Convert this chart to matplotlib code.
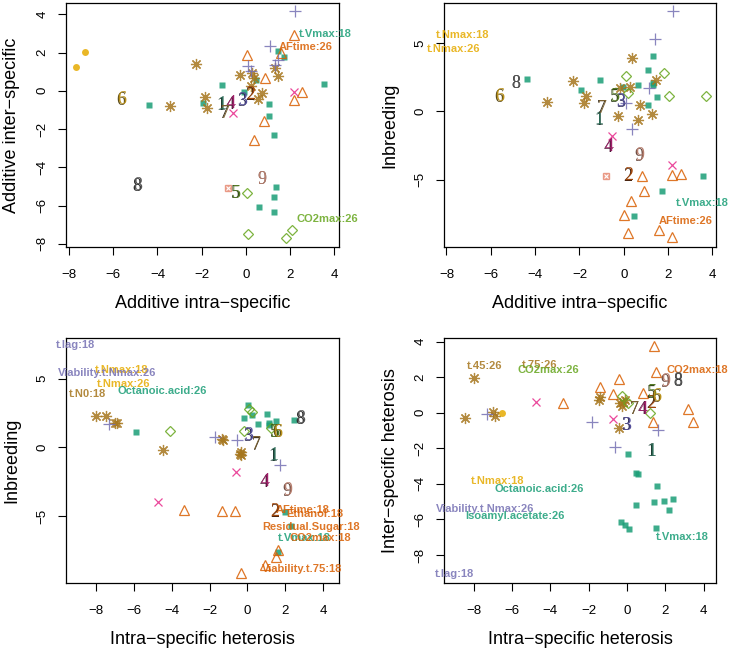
# Four-panel scatter of trait effects (base-R look), rebuilt in matplotlib
import matplotlib
matplotlib.use("Agg")
import matplotlib.pyplot as plt
import matplotlib.transforms as mtrans

plt.rcParams['font.family'] = ['Liberation Sans', 'DejaVu Sans']

# colours (Dark2 style)
GREEN = '#1B9E77'
ORANGE = '#D95F02'
PURPLE = '#7570B3'
MAGENTA = '#E7298A'
LIME = '#66A61E'
GOLD = '#E6AB02'
BROWN = '#A6761D'
SALMON = '#E8907A'

# numbers 1..9 : main colour, shadow colour
num_col = ['#2E6B57', '#A2470A', '#55509A', '#A0206A', '#557A25',
           '#B8901A', '#7A6030', '#555555', '#B88070']
num_shadow = ['#1E3D33', '#4A2510', '#2E2B55', '#4E1838', '#2E3F18',
              '#5A4A18', '#3A3020', '#2A2A2A', '#6A4A40']

# ---------------- panel 1 : additive intra vs additive inter ----------------
p1_sq = [[-4.36, -0.77], [-1.09, 0.31], [-1.93, -0.63], [-0.08, -0.09], [0.45, 0.58],
         [1.06, -0.68], [1.06, -1.31], [1.28, -2.29], [1.45, 2.06], [1.75, 1.76],
         [3.54, 0.35], [1.36, -5.03], [1.28, -5.57], [0.62, -6.06], [1.28, -6.34]]
p1_tri = [[0.05, 1.88], [1.6, 1.97], [2.16, 2.9], [0.87, 0.66], [0.84, -1.57],
          [0.35, -2.58], [2.56, -0.05], [2.16, -0.49]]
p1_ast = [[-3.45, -0.82], [-2.26, 1.40], [-1.84, -0.30], [-1.74, -0.91], [-0.26, 0.84],
          [0.27, 0.93], [0.35, 0.66], [1.30, 1.19], [1.45, 0.75], [0.24, 0.23],
          [0.72, -0.12], [0.56, -0.42]]
p1_plus = [[2.23, 4.15], [1.10, 2.32], [1.33, 1.36], [1.48, 1.62], [0.09, 1.31], [0.24, 1.01]]
p1_x = [[-0.57, -1.14], [2.16, -0.04]]
p1_dia = [[0.06, -5.36], [0.08, -7.49], [1.81, -7.71], [2.11, -7.28]]
p1_circ = [[-7.68, 1.26], [-7.28, 2.02]]
p1_box = [[-0.81, -5.08]]
p1_num = [[-1.09, -0.73], [0.23, -0.21], [-0.13, -0.51], [-0.68, -0.68], [-0.41, -5.36],
          [-5.61, -0.47], [-0.94, -1.17], [-4.9, -4.97], [0.75, -4.62]]
p1_lab = ['t.Vmax:18', 'AFtime:26', 'CO2max:26']
p1_lab_xy = [[3.59, 2.97], [2.73, 2.30], [3.71, -6.70]]
p1_lab_col = [GREEN, ORANGE, LIME]

# ---------------- panel 2 : additive intra vs inbreeding ----------------
p2_sq = [[-4.35, 2.37], [-1.94, 1.54], [-1.08, 2.27], [-0.05, 1.76], [0.63, 1.95],
         [1.08, 0.49], [1.08, 3.05], [1.3, 1.9], [1.3, 2.1], [1.49, 1.02], [1.34, 4.02],
         [3.56, -4.71], [1.71, -5.83], [0.48, -7.68]]
p2_tri = [[0.83, -4.71], [2.16, -4.68], [2.58, -4.59], [0.90, -5.83], [0.33, -6.54],
          [0.03, -7.61], [0.20, -8.9], [1.61, -8.66], [2.18, -9.22]]
p2_ast = [[-3.48, 0.71], [-2.27, 2.24], [-1.71, 1.10], [-1.80, 0.61], [-0.26, -0.37],
          [-0.17, 1.71], [0.30, 1.78], [0.36, 3.90], [0.75, 0.49], [0.63, -0.66],
          [1.46, 2.27], [1.28, -0.20]]
p2_plus = [[0.11, 0.61], [0.36, -1.29], [1.16, 1.71], [1.43, 5.29], [2.24, 7.32]]
p2_x = [[-0.54, -1.83], [2.16, -3.95]]
p2_dia = [[0.11, 2.56], [0.18, 1.34], [1.80, 2.80], [2.06, 1.10], [3.71, 1.10]]
p2_circ = []
p2_box = [[-0.80, -4.76]]
p2_num = [[-1.1, -0.61], [0.23, -4.71], [-0.12, 0.73], [-0.68, -2.56], [-0.38, 1.05],
          [-5.6, 1.10], [-0.98, 0.24], [-4.85, 2.07], [0.74, -3.24]]
p2_lab = ['t.Nmax:18', 't.Nmax:26', 't.Vmax:18', 'AFtime:26']
p2_lab_xy = [[-7.25, 5.56], [-7.67, 4.56], [3.53, -6.71], [2.78, -8.05]]
p2_lab_col = [GOLD, GOLD, GREEN, ORANGE]

# ---------------- panel 3 : intra heterosis vs inbreeding ----------------
p3_sq = [[-5.87, 1.10], [0.02, 3.05], [-0.21, 2.12], [0.23, 2.32], [0.58, 1.66],
         [1.02, 2.39], [1.11, 1.8], [1.11, 1.6], [1.51, 1.90], [2.46, 1.95],
         [1.99, -4.68], [2.3, -5.73], [1.63, -7.6]]
p3_tri = [[-3.37, -4.56], [-1.32, -4.63], [-0.65, -4.63], [1.6, -7.49], [1.49, -7.98],
          [0.9, -8.6], [-0.33, -9.15]]
p3_ast = [[-8.0, 2.27], [-7.45, 2.27], [-7.0, 1.8], [-6.9, 1.75], [-4.48, -0.17],
          [-1.35, 0.61], [-1.3, 0.55], [-0.33, -0.37], [-0.33, -0.6], [-0.4, -0.5]]
p3_plus = [[-7.33, 1.66], [-1.74, 0.73], [-0.53, 0.54], [1.72, -1.29]]
p3_x = [[-0.62, -1.78], [-4.75, -3.95]]
p3_dia = [[-4.11, 1.15], [-0.21, 1.15], [0.1, 2.8], [0.25, 2.6], [1.23, 1.39]]
p3_circ = []
p3_box = []
p3_num = [[1.41, -0.61], [1.46, -4.68], [0.05, 0.85], [0.93, -2.51], [1.46, 1.1],
          [1.6, 1.1], [0.49, 0.2], [2.83, 2.07], [2.11, -3.17]]
p3_lab = ['t.lag:18', 't.Nmax:18', 'Viability.t.Nmax:26', 't.Nmax:26', 't.N0:18',
          'Octanoic.acid:26', 'AFtime:18', 'Ethanol:18', 'Residual.Sugar:18',
          't.Vmax:18', 'CO2max:18', 'Viability.t.75:18']
p3_lab_xy = [[-9.09, 7.44], [-6.63, 5.61], [-7.42, 5.41], [-6.54, 4.59], [-8.44, 3.90],
             [-4.52, 4.07], [2.9, -4.55], [3.57, -4.88], [3.34, -5.80],
             [2.99, -6.63], [3.83, -6.59], [2.86, -8.85]]
p3_lab_col = [PURPLE, GOLD, PURPLE, GOLD, BROWN, GREEN, ORANGE, ORANGE, ORANGE,
              GREEN, ORANGE, ORANGE]

# ---------------- panel 4 : intra heterosis vs inter heterosis ----------------
p4_sq = [[0.03, -2.31], [0.45, -3.4], [0.55, -3.42], [1.55, -4.13], [0.47, -5.2],
         [1.42, -5.0], [1.91, -4.97], [2.38, -4.84], [2.2, -5.44], [-0.31, -6.13],
         [-0.09, -6.32], [0.12, -6.51], [1.51, -6.47]]
p4_tri = [[-3.32, 0.53], [-1.41, 1.46], [-0.75, 1.05], [-0.40, 1.88], [0.82, 1.09],
          [1.37, -0.51], [1.42, 3.75], [1.51, 2.31], [3.19, 0.19], [3.45, -0.51]]
p4_ast = [[-8.0, 1.97], [-8.44, -0.28], [-7.0, 0.04], [-6.91, -0.19], [-1.41, 0.9],
          [-1.44, 0.71], [-0.36, 0.53], [-0.19, 0.61], [-0.25, 0.4], [-0.09, 0.71],
          [-0.40, -0.88]]
p4_plus = [[-7.31, -0.09], [-1.84, -0.51], [-0.61, -1.91], [1.63, -0.98]]
p4_x = [[-4.74, 0.60], [-0.71, -0.38]]
p4_dia = [[-0.28, 0.94], [0.07, 0.53], [1.2, 0.0]]
p4_circ = [[-6.51, 0.0]]
p4_box = []
p4_num = [[1.28, -2.16], [1.28, 0.53], [-0.02, -0.69], [0.85, 0.2], [1.34, 1.13],
          [1.55, 0.9], [0.4, 0.2], [2.67, 1.8], [2.03, 1.74]]
p4_lab = ['t.45:26', 't.75:26', 'CO2max:26', 'CO2max:18', 't.Nmax:18',
          'Octanoic.acid:26', 'Viability.t.Nmax:26', 'Isoamyl.acetate:26',
          't.Vmax:18', 't.lag:18']
p4_lab_xy = [[-7.43, 2.63], [-4.57, 2.66], [-4.13, 2.40], [3.68, 2.40], [-6.74, -3.85],
             [-4.57, -4.26], [-7.38, -5.40], [-5.87, -5.82], [2.86, -6.98], [-8.99, -9.04]]
p4_lab_col = [BROWN, BROWN, LIME, ORANGE, GOLD, GREEN, PURPLE, GREEN, GREEN, PURPLE]


def xy(pts):
    return [p[0] for p in pts], [p[1] for p in pts]


def draw(ax, sq, tri, ast, plus, xs, dia, circ, box, num, lab, lab_xy, lab_col):
    a = 0.85
    if sq:
        ax.plot(*xy(sq), 's', ms=4.2, color=GREEN, mec='none', alpha=a)
    if tri:
        ax.plot(*xy(tri), '^', ms=7, mfc='none', mec=ORANGE, mew=0.9, alpha=a)
    if ast:
        ax.plot(*xy(ast), ls='none', marker=(8, 2, 0), ms=8, color=BROWN, mew=0.9, alpha=a)
    if plus:
        ax.plot(*xy(plus), '+', ms=8.5, color=PURPLE, mew=0.9, alpha=a)
    if xs:
        ax.plot(*xy(xs), 'x', ms=6, color=MAGENTA, mew=0.9, alpha=a)
    if dia:
        ax.plot(*xy(dia), 'D', ms=5, mfc='none', mec=LIME, mew=0.9, alpha=a)
    if circ:
        ax.plot(*xy(circ), 'o', ms=5, color=GOLD, mec='none', alpha=a)
    if box:
        ax.plot(*xy(box), 's', ms=5, color=SALMON, mec=SALMON, alpha=a)
        ax.plot(*xy(box), 'x', ms=3.5, color='white', mew=0.8)
    # labelled trait names, not clipped to the box
    for t, (lx, ly), c in zip(lab, lab_xy, lab_col):
        ax.text(lx, ly, t, color=c, alpha=0.85, fontsize=8, fontweight='bold',
                ha='center', va='center', clip_on=False)
    # strain numbers with a dark shadow
    shadow = mtrans.offset_copy(ax.transData, fig=ax.figure, x=-0.9, y=-0.7, units='dots')
    for i, (nx, ny) in enumerate(num):
        ax.text(nx, ny, str(i + 1), transform=shadow, color=num_shadow[i],
                fontsize=13, family='Liberation Serif', ha='center', va='center')
        ax.text(nx, ny, str(i + 1), color=num_col[i],
                fontsize=13, family='Liberation Serif', ha='center', va='center')


fig = plt.figure(figsize=(7.33, 6.53), dpi=100)

W, H = 733.0, 653.0
panels = [
    # left, top, right, bottom in pixels, xlim, ylim, yticks, labels, data
    (66, 3, 339, 247, (-8.14, 4.22), (-8.17, 4.59), [-8, -6, -4, -2, 0, 2, 4],
     'Additive intra\u2212specific', 'Additive inter\u2212specific',
     (p1_sq, p1_tri, p1_ast, p1_plus, p1_x, p1_dia, p1_circ, p1_box, p1_num,
      p1_lab, p1_lab_xy, p1_lab_col)),
    (444, 3, 716, 247, (-8.11, 4.16), (-9.93, 7.93), [-5, 0, 5],
     'Additive intra\u2212specific', 'Inbreeding',
     (p2_sq, p2_tri, p2_ast, p2_plus, p2_x, p2_dia, p2_circ, p2_box, p2_num,
      p2_lab, p2_lab_xy, p2_lab_col)),
    (66, 338, 339, 583, (-9.58, 4.83), (-9.88, 7.95), [-5, 0, 5],
     'Intra\u2212specific heterosis', 'Inbreeding',
     (p3_sq, p3_tri, p3_ast, p3_plus, p3_x, p3_dia, p3_circ, p3_box, p3_num,
      p3_lab, p3_lab_xy, p3_lab_col)),
    (444, 338, 716, 583, (-9.55, 4.64), (-9.57, 4.2), [-8, -6, -4, -2, 0, 2, 4],
     'Intra\u2212specific heterosis', 'Inter\u2212specific heterosis',
     (p4_sq, p4_tri, p4_ast, p4_plus, p4_x, p4_dia, p4_circ, p4_box, p4_num,
      p4_lab, p4_lab_xy, p4_lab_col)),
]

for (l, t, r, b, xl, yl, yt, xlab, ylab, data) in panels:
    ax = fig.add_axes([l / W, 1 - b / H, (r - l) / W, (b - t) / H])
    draw(ax, *data)
    ax.set_xlim(xl)
    ax.set_ylim(yl)
    ax.set_xticks([-8, -6, -4, -2, 0, 2, 4])
    ax.set_yticks(yt)
    for s in ax.spines.values():
        s.set_linewidth(0.9)
    ax.tick_params(direction='out', length=5.5, width=0.8, labelsize=9.5)
    ax.tick_params(axis='x', pad=10)
    ax.tick_params(axis='y', pad=7, labelrotation=90)
    for tl in ax.get_yticklabels():
        tl.set_va('center')
    ax.set_xlabel(xlab, fontsize=13)
    ax.set_ylabel(ylab, fontsize=13)
    ax.xaxis.label.set_va('center')
    ax.yaxis.label.set_va('center')
    ax.xaxis.set_label_coords(0.5, -0.23)
    ax.yaxis.set_label_coords(-0.198, 0.5)

fig.savefig('out.png', dpi=100)
